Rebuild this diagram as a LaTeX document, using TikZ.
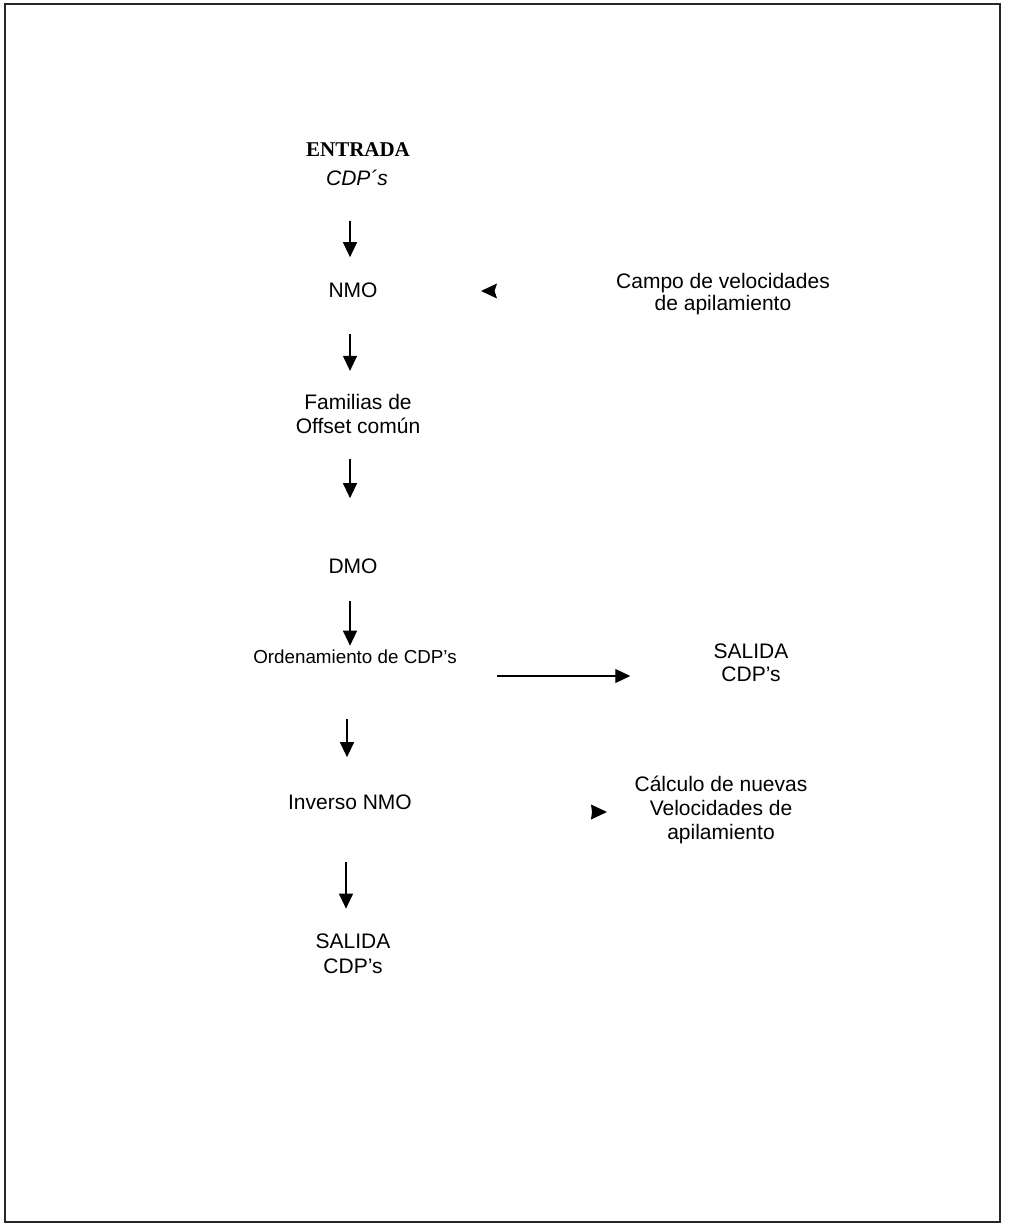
\documentclass[tikz,border=0pt]{standalone}
\usepackage{fontspec}
\setmainfont{Liberation Sans}
\newfontfamily\serifbold{Liberation Serif}
\usetikzlibrary{arrows.meta}
\begin{document}
\begin{tikzpicture}[x=0.5pt,y=-0.5pt,
  lbl/.style={inner sep=0pt,font=\fontsize{10.5pt}{12pt}\selectfont,align=center},
  small/.style={inner sep=0pt,font=\fontsize{9.4pt}{11pt}\selectfont,align=center},
  arr/.style={line width=0.6pt,-{Triangle[length=7.5pt,width=7pt]}},
  head/.style={fill=black}]
\useasboundingbox (0,0) rectangle (1008,1224);
% page frame
\draw[line width=1pt,black!85] (5,4) rectangle (1000,1222);

% main column
\node[inner sep=0pt,font=\serifbold\bfseries\fontsize{10.5pt}{12pt}\selectfont] (entrada) at (358,150) {ENTRADA};
\node[lbl,font=\fontsize{10.5pt}{12pt}\selectfont\itshape] (cdpin) at (357,178) {CDP´s};
\node[lbl] (nmo) at (353,290) {NMO};
\node[lbl] (fam) at (358,414) {Familias de\\Offset común};
\node[lbl] (dmo) at (353,566) {DMO};
\node[small] (ord) at (355,657) {Ordenamiento de CDP's};
\node[lbl] (inv) at (350,802) {Inverso NMO};
\node[lbl,font=\fontsize{10.5pt}{12.5pt}\selectfont] (salida) at (353,954) {SALIDA\\CDP's};

% right column
\node[lbl,font=\fontsize{10.5pt}{11pt}\selectfont] (campo) at (723,294) {Campo de velocidades\\de apilamiento};
\node[lbl,font=\fontsize{10.5pt}{11.5pt}\selectfont] (salida2) at (751,663) {SALIDA\\CDP's};
\node[lbl,font=\fontsize{10.5pt}{11.8pt}\selectfont] (calc) at (721,810) {Cálculo de nuevas\\Velocidades de\\apilamiento};

% vertical flow
\coordinate (col) at (350,0);
\draw[arr,shorten <=17.5pt,shorten >=12.5pt] (col |- cdpin.south) -- (col |- nmo.north);
\draw[arr,shorten <=18pt,shorten >=11.5pt] (col |- nmo.south) -- (col |- fam.north);
\draw[arr,shorten <=12.5pt,shorten >=30pt] (col |- fam.south) -- (col |- dmo.north);
\draw[arr,shorten <=13.5pt,shorten >=2pt] (col |- dmo.south) -- (col |- ord.north);
\coordinate (col2) at (347,0);
\draw[arr,shorten <=27.5pt,shorten >=18.5pt] (col2 |- ord.south) -- (col2 |- inv.north);
\coordinate (col3) at (346,0);
\draw[arr,shorten <=26pt,shorten >=12.5pt] (col3 |- inv.south) -- (col3 |- salida.north);

% side branch to the second output
\draw[arr,shorten <=20pt,shorten >=41.5pt] ([yshift=-9.5pt]ord.east) -- ([yshift=-6.5pt]salida2.west);

% loose arrow heads
\coordinate (hl) at (481,291);
\fill[head] (hl) -- ++(16,-7.5) -- ++(-2.5,7.5) -- ++(2.5,7.5) -- cycle;
\coordinate (hr) at (607,812);
\fill[head] (hr) -- ++(-16,-7.5) -- ++(1,7.5) -- ++(-1,7.5) -- cycle;
\end{tikzpicture}
\end{document}
